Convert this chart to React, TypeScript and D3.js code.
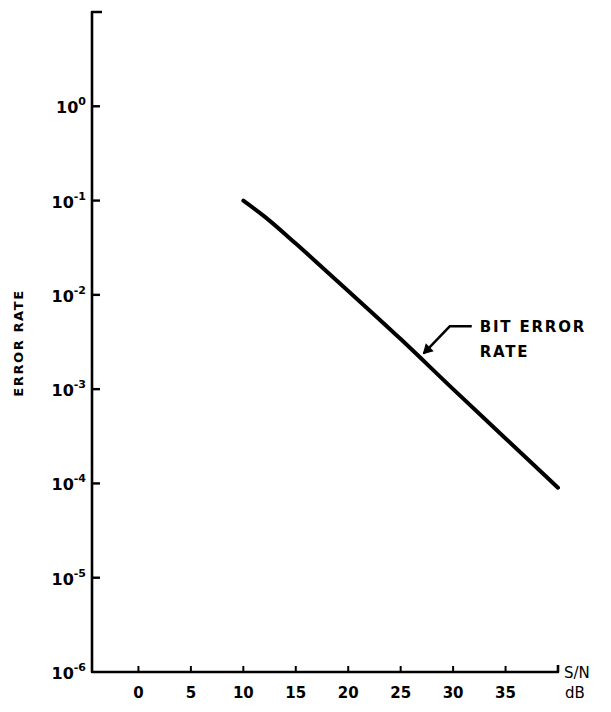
import { useEffect, useRef } from 'react';
import * as d3 from 'd3';

// S/N in dB vs bit error rate
const snrDb = [10, 12, 15, 18, 20, 25, 30, 35, 40];
const bitErrorRate = [0.1, 0.068, 0.035, 0.0175, 0.011, 0.0034, 0.001, 0.0003, 0.00009];
const xTicks = [0, 5, 10, 15, 20, 25, 30, 35];
const yExponents = [0, -1, -2, -3, -4, -5, -6];

export default function App() {
  const ref = useRef<SVGSVGElement>(null);

  useEffect(() => {
    if (!ref.current) return;
    const svg = d3.select(ref.current);
    svg.selectAll('*').remove();

    const font = '"DejaVu Sans", sans-serif';
    const x = d3.scaleLinear().domain([-5, 40]).range([86, 558]);
    const y = d3.scaleLog().domain([1e-6, 10]).range([672, 12]);
    const x0 = x(-5) + 6;
    const yBase = y(1e-6);

    // axes
    svg.append('path')
      .attr('d', `M${x0 + 10},${y(10)} H${x0} V${yBase} H${x(40)} v-7`)
      .attr('fill', 'none').attr('stroke', '#000').attr('stroke-width', 2.6)
      .attr('stroke-linejoin', 'round');

    const yt = svg.append('g');
    yExponents.forEach(e => {
      const v = Math.pow(10, e);
      if (e > -6) {
        yt.append('line').attr('x1', x0).attr('x2', x0 + 8).attr('y1', y(v)).attr('y2', y(v))
          .attr('stroke', '#000').attr('stroke-width', 2.4);
      }
      const t = yt.append('text').attr('x', x0 - 6).attr('y', y(v) + 7)
        .attr('text-anchor', 'end').attr('font-family', font).attr('font-size', 16)
        .attr('font-weight', 'bold');
      t.append('tspan').text('10');
      t.append('tspan').attr('dy', -8).attr('font-size', 11).text(e === 0 ? '0' : `-${-e}`);
    });

    const xt = svg.append('g');
    xTicks.forEach(d => {
      xt.append('line').attr('x1', x(d)).attr('x2', x(d)).attr('y1', yBase).attr('y2', yBase - 6)
        .attr('stroke', '#000').attr('stroke-width', 2);
      xt.append('text').attr('x', x(d)).attr('y', yBase + 26).attr('text-anchor', 'middle')
        .attr('font-family', font).attr('font-size', 15).attr('font-weight', 'bold').text(d);
    });

    svg.append('text').attr('x', 564).attr('y', 678).attr('font-family', font)
      .attr('font-size', 15).text('S/N');
    svg.append('text').attr('x', 565).attr('y', 698).attr('font-family', font)
      .attr('font-size', 15).text('dB');

    svg.append('text')
      .attr('transform', `translate(23,343) rotate(-90)`)
      .attr('text-anchor', 'middle').attr('font-family', font).attr('font-size', 13)
      .attr('font-weight', 'bold').attr('letter-spacing', 1.6).text('ERROR RATE');

    // curve
    const line = d3.line<number>()
      .x((_, i) => x(snrDb[i]))
      .y(d => y(d))
      .curve(d3.curveMonotoneX);
    svg.append('path').attr('d', line(bitErrorRate))
      .attr('fill', 'none').attr('stroke', '#000').attr('stroke-width', 4)
      .attr('stroke-linecap', 'round');

    // annotation
    const ax = x(27.2), ay = y(0.0024);
    svg.append('path')
      .attr('d', `M${ax},${ay} L${ax + 26},${ay - 27} H${ax + 48}`)
      .attr('fill', 'none').attr('stroke', '#000').attr('stroke-width', 2.4);
    svg.append('path')
      .attr('d', `M${ax - 1},${ay + 1} l3,-11 l8,8 z`)
      .attr('fill', '#000');
    const lab = svg.append('text').attr('font-family', font).attr('font-size', 15)
      .attr('font-weight', 'bold').attr('letter-spacing', 1.8);
    lab.append('tspan').attr('x', ax + 56).attr('y', ay - 21).text('BIT ERROR');
    lab.append('tspan').attr('x', ax + 56).attr('y', ay + 4).text('RATE');
  }, []);

  return (
    <div style={{ position: 'absolute', left: 0, top: 0, background: '#fff' }}>
      <svg ref={ref} width={611} height={712} viewBox="0 0 611 712" />
    </div>
  );
}
